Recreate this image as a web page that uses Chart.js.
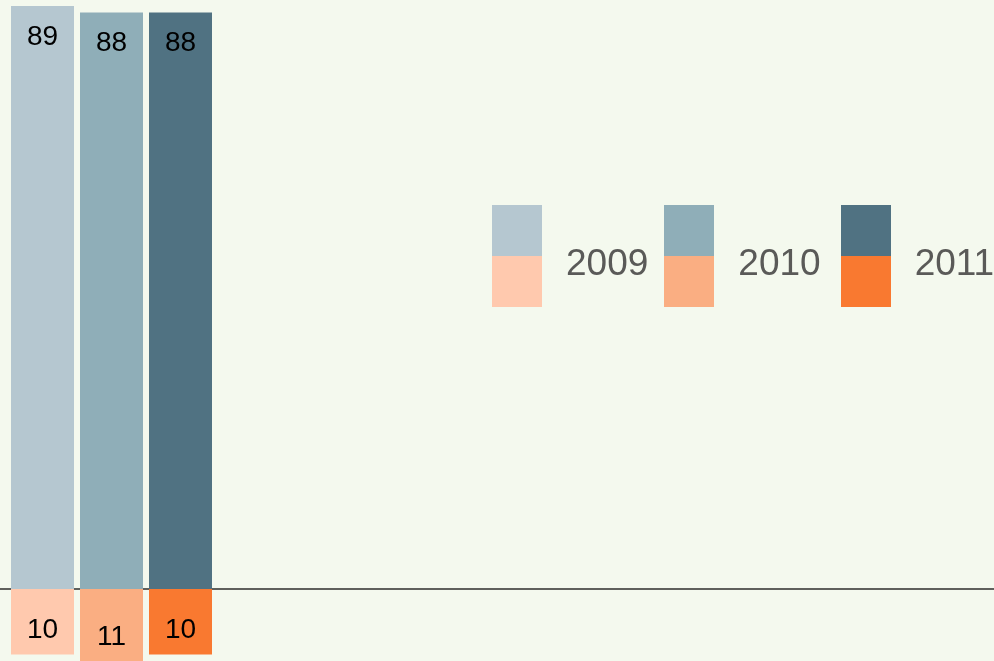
<!DOCTYPE html>
<html>
<head>
<meta charset="utf-8">
<script src="https://cdn.jsdelivr.net/npm/chart.js@4"></script>
<style>
  html,body{margin:0;padding:0;background:#f4f9ee;overflow:hidden}
  #wrap{position:relative;width:994px;height:661px}
  #legend{position:absolute;left:492px;top:205px;display:flex;align-items:center;font-family:"Liberation Sans",Arial,sans-serif;font-size:37px;color:#5a5a58}
  .lg-item{display:flex;align-items:center;margin-right:16px}
  .lg-item:nth-child(2){margin-right:20px}
  .lg-sw{width:50px;display:flex;flex-direction:column}
  .lg-sw div{height:51px}
  .lg-txt{margin-left:24px;position:relative;top:7px}
</style>
</head>
<body>
<div id="wrap">
  <canvas id="c" width="994" height="661"></canvas>
  <div id="legend"></div>
</div>
<script>
// ── DATA ─────────────────────────────────────────────
const years = ['2009','2010','2011'];
const upper = [89, 88, 88];
const lower = [-10, -11, -10];
const upperColors = ['#b5c7d0','#8faeb8','#507282'];
const lowerColors = ['#ffc9ae','#faae82','#f97930'];

// ── LEGEND ───────────────────────────────────────────
document.getElementById('legend').innerHTML = years.map((y,i)=>
    `<div class="lg-item"><div class="lg-sw"><div style="background:${upperColors[i]}"></div><div style="background:${lowerColors[i]}"></div></div><span class="lg-txt">${y}</span></div>`
).join('');

// zero line under the bars, full width
const zeroLine = {
    id:'zeroLine',
    beforeDatasetsDraw(chart){
        const ctx = chart.ctx, y = chart.scales.y.getPixelForValue(0);
        ctx.save();
        ctx.strokeStyle = '#5f605c'; ctx.lineWidth = 2;
        ctx.beginPath(); ctx.moveTo(0,y); ctx.lineTo(chart.width,y); ctx.stroke();
        ctx.restore();
    }
};

// value labels near the outer end of each segment
const valueLabels = {
    id:'valueLabels',
    afterDatasetsDraw(chart){
        const ctx = chart.ctx;
        ctx.save();
        ctx.font = '28px "Liberation Sans", Arial, sans-serif';
        ctx.fillStyle = '#000';
        ctx.textAlign = 'center'; ctx.textBaseline = 'middle';
        chart.data.datasets.forEach((ds,di)=>{
            chart.getDatasetMeta(di).data.forEach((bar,i)=>{
                const v = ds.data[i];
                const y = v>=0 ? bar.y+31 : bar.y-24;
                ctx.fillText(Math.abs(v), bar.x, y);
            });
        });
        ctx.restore();
    }
};

new Chart(document.getElementById('c'),{
    type:'bar',
    data:{labels:years,datasets:[
        {data:upper,backgroundColor:upperColors,borderWidth:0},
        {data:lower,backgroundColor:lowerColors,borderWidth:0}
    ]},
    options:{
        responsive:false,animation:false,
        layout:{padding:{left:8,right:779,top:6,bottom:0}},
        datasets:{bar:{barPercentage:0.913,categoryPercentage:1}},
        plugins:{legend:{display:false},tooltip:{enabled:false}},
        scales:{
            x:{stacked:true,display:false},
            y:{stacked:true,display:false,min:-11,max:89}
        }
    },
    plugins:[zeroLine,valueLabels]
});
</script>
</body>
</html>
